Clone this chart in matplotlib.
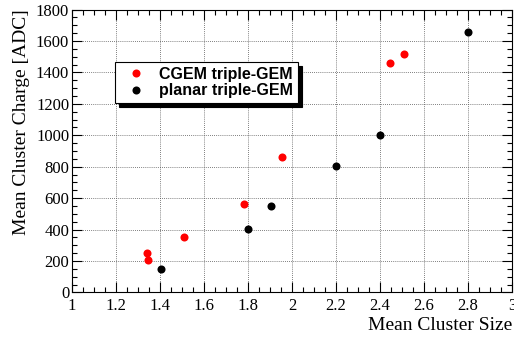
import matplotlib.pyplot as plt
from matplotlib.ticker import MultipleLocator

# data
cgem_size = [1.34, 1.345, 1.51, 1.783, 1.955, 2.445, 2.51]
cgem_charge = [248, 206, 352, 562, 860, 1458, 1515]
planar_size = [1.403, 1.80, 1.903, 2.20, 2.40, 2.80]
planar_charge = [150, 401, 552, 806, 1002, 1655]

plt.rcParams['font.family'] = 'Liberation Serif'

fig = plt.figure(figsize=(5.14, 3.4), dpi=100)
ax = fig.add_axes([0.140, 0.140, 0.856, 0.832])

ax.plot(cgem_size, cgem_charge, 'o', color='#ff0000', markersize=5.8,
        markeredgewidth=0, label='CGEM triple-GEM', zorder=3)
ax.plot(planar_size, planar_charge, 'o', color='black', markersize=5.8,
        markeredgewidth=0, label='planar triple-GEM', zorder=3)

ax.set_xlim(1, 3)
ax.set_ylim(0, 1800)
ax.xaxis.set_major_locator(MultipleLocator(0.2))
ax.xaxis.set_minor_locator(MultipleLocator(0.05))
ax.yaxis.set_major_locator(MultipleLocator(200))
ax.yaxis.set_minor_locator(MultipleLocator(50))
ax.set_xticks([1, 1.2, 1.4, 1.6, 1.8, 2, 2.2, 2.4, 2.6, 2.8, 3])
ax.set_xticklabels(['1', '1.2', '1.4', '1.6', '1.8', '2', '2.2', '2.4', '2.6', '2.8', '3'])

ax.tick_params(which='both', direction='in', top=True, right=True, labelsize=12, width=0.8)
ax.tick_params(which='major', length=7)
ax.tick_params(which='minor', length=3.6)
ax.tick_params(axis='x', pad=4)
ax.tick_params(axis='y', pad=2)
for s in ax.spines.values():
    s.set_linewidth(0.8)

ax.grid(True, which='major', linestyle=(0, (1, 1.5)), color='#555555', linewidth=0.6)
ax.set_axisbelow(True)

ax.set_xlabel('Mean Cluster Size', fontsize=14, loc='right', labelpad=2)
ax.set_ylabel('Mean Cluster Charge [ADC]', fontsize=14, loc='top', labelpad=4)

leg = ax.legend(loc='upper left', bbox_to_anchor=(0.098, 0.815), borderaxespad=0,
                fancybox=False, edgecolor='black', framealpha=1,
                shadow={'color': 'black', 'alpha': 1, 'ox': 3, 'oy': -3},
                prop={'family': 'Liberation Sans', 'weight': 'bold', 'size': 11.5},
                handletextpad=0.45, borderpad=0.3, labelspacing=0.1,
                handlelength=2.0)
leg.get_frame().set_linewidth(0.8)

fig.savefig('out.png', dpi=100)
